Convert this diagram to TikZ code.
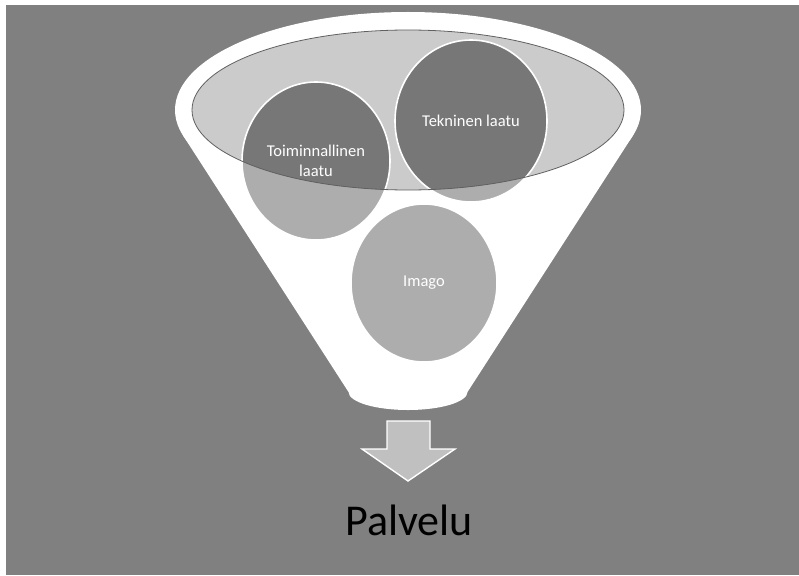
\documentclass[tikz,border=0pt]{standalone}
\usepackage{fontspec}
\setmainfont{Carlito}
\usepackage{tikz}
\usetikzlibrary{shapes.geometric}

\definecolor{fondo}{HTML}{808080}
\definecolor{boca}{HTML}{CBCBCB}
\definecolor{borde}{HTML}{606060}
\definecolor{claro}{HTML}{ADADAD}
\definecolor{oscuro}{HTML}{777777}
\definecolor{flecha}{HTML}{C0C0C0}

\tikzset{
    burbuja/.style={ellipse, draw=white, line width=1.6pt, fill=claro, text=white,
        minimum width=148pt, minimum height=158pt, inner sep=0pt, align=center,
        font=\fontsize{16.5}{20}\selectfont,
        path picture={\fill[oscuro] (M) ellipse [x radius=216, y radius=80];}}
}

\begin{document}
\begin{tikzpicture}[x=1pt,y=-1pt]
    \fill[white] (0,0) rectangle (799,575);
    \fill[fondo] (6,5) rectangle (799,575);

    % embudo
    \coordinate (M) at (408,110);
    \fill[white] (M) ellipse [x radius=233, y radius=98];
    \fill[white] (183.2,135.7) -- (348.5,392)
        arc [start angle=180, end angle=0, x radius=59.5, y radius=18]
        -- (632.8,135.7) -- cycle;
    \fill[boca] (M) ellipse [x radius=216, y radius=80];

    \node[burbuja] (toim) at (316,161) {Toiminnallinen\\laatu};
    \node[burbuja, minimum width=152pt, minimum height=162pt] (tekn) at (471,121) {Tekninen laatu};
    \node[burbuja, minimum width=146pt] (imago) at (424,283) {Imago};

    \draw[borde, line width=0.8pt] (M) ellipse [x radius=216, y radius=80];

    % flecha hacia abajo
    \draw[white, fill=flecha, line width=1.4pt, line join=miter]
        (387,421) -- (430,421) -- (430,449) -- (455,449) -- (408,481)
        -- (362,449) -- (387,449) -- cycle;

    \node[anchor=base, font=\fontsize{44}{50}\selectfont] (palvelu) at (409,535) {Palvelu};
\end{tikzpicture}
\end{document}
